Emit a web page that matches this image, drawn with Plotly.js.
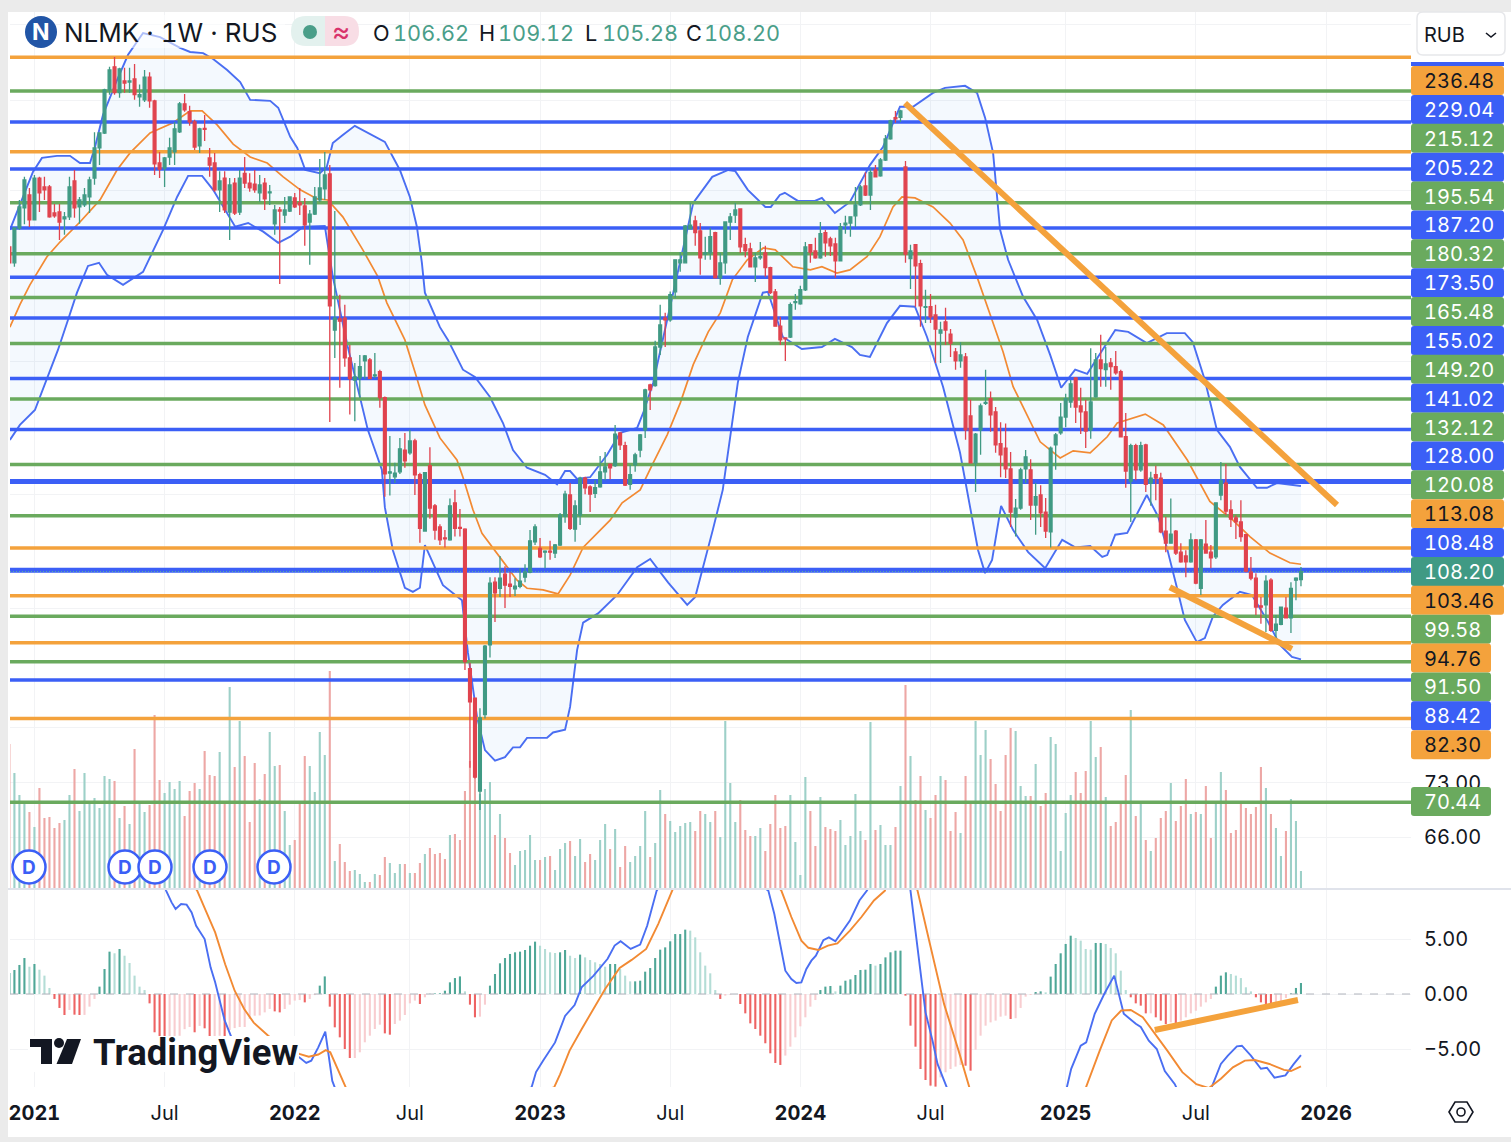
<!DOCTYPE html>
<html><head><meta charset="utf-8">
<script src="https://cdn.plot.ly/plotly-3.0.1.min.js"></script>
<style>html,body{margin:0;padding:0;background:#fff;overflow:hidden}#c{width:1511px;height:1142px}svg text{font-feature-settings:"tnum" 1,"cv01" 0;font-variant-numeric:tabular-nums}</style>
</head><body><div id="c"></div>
<script>
const openP=[198.1,192.3,205.2,213,218.2,208.3,225.2,221.5,221.5,211,211.4,208.7,209.5,224,213.4,214.2,217.4,225.2,238.2,244.9,265.4,277,264,269.8,269.3,270.8,262,260.5,271.8,260,231.6,229.4,234.2,236.4,245.4,258.6,254.8,250,239.1,247,233.8,231.6,220.3,225.2,211.4,223.1,211.4,227.2,223.1,222.7,219.1,223.1,219.1,206.8,212.2,210.2,211.8,217,215,213.8,207.5,210.6,216.2,220.7,226.9,169.7,173.2,173.5,161.1,154.6,155.2,160.2,160.5,155.8,157,149.6,130,129.1,130.3,135.7,135,138,129.6,116.7,131.8,122.3,117.6,115.2,114.8,123,117.5,117.1,90.3,85.5,71.9,82.9,94.4,106.1,104.9,107.7,105.7,104.8,105.3,107.1,108.1,114.4,113,112.2,112.4,112,113.7,120,124.8,117.1,120.2,128.8,126.7,125.2,126.7,130.3,132.2,131.8,140.1,136.8,127.3,132,135.7,140.9,153.2,153,164.4,173.5,172.9,182.2,192.3,192.3,204.9,207.9,204.1,195.5,195.9,203.4,187,192.3,207.5,210.2,212.6,198.9,197.4,190.9,194.1,195.9,190.6,182.2,170.9,167.2,167.5,178.6,178.2,182.9,198.9,196.6,194.1,203.4,201.1,199.2,193,206.4,207.1,209.9,214.2,221.9,218.2,228.6,226.1,232.9,242.2,252,252.2,229.9,193.8,198.9,192,177,177.2,174.5,168.7,172.3,168.4,162.9,160.2,161.4,144.6,132.5,140.9,148,149.3,145.7,137.3,136.2,131,119.8,121.8,131,130.8,122.5,124.8,120.9,116.5,137,140.1,144.3,148.4,155.2,147.3,145.7,140.9,149.8,160.5,157.6,159.6,158.5,157,139.1,128.1,136.8,130.8,137,127.6,129.6,128.8,116.7,114.1,116.7,112.2,111.4,110.2,114.8,104.9,113.9,112.2,111.2,124.8,127.6,121.4,119.6,118.7,115.9,108.1,106.9,101.5,101.7,106.5,97,98.1,101.1,99.3,106.5,106.62];
const highP=[198.9,205.2,216.2,225.7,221.1,226.5,225.7,225.7,222.3,214.6,214.6,211.4,225.7,228.6,217.4,221.1,225.7,245.3,245,265.9,277,282.2,276.5,276.5,276.5,278.5,268,275.4,274.3,260.5,236.4,234.2,242.7,250,259.5,263.4,257.6,251,247.3,253.3,238.2,235.9,228.1,228.1,225.2,225.2,228.6,234.2,227.2,228.6,226.5,225.2,222.3,214.2,213.4,217.4,217.4,219,221.1,217,212.2,221.5,233.3,236.4,230.7,211.8,181.2,177.9,165,159.6,162,162,161.1,162.6,157.6,149.9,139.3,132.5,138.8,140.1,140.9,138.6,130.1,130.1,136.4,122.7,118.2,116.9,124,126,121.6,117.3,91.3,85.5,83.9,94.4,107.1,107.1,111.4,109.3,108.1,106.9,108.9,109.7,116.9,118.2,115.2,112.6,114.6,113.9,120.7,125.8,127.6,123.6,129.1,129.1,127.1,128.3,134.2,135.2,132.2,142.2,140.1,137.8,132,135,139.8,152.1,153.5,166.3,177.9,175.2,182.3,193.4,196.2,206.3,215,209.9,207.1,201.9,205.2,203.8,195.9,207.5,211,215,212.6,201.5,199.6,195.9,199.9,198.5,190.9,183.2,173.9,167.2,178.6,181.5,184.3,199.9,199.2,201.5,207.5,204.5,201.9,201.5,207.1,209.9,209.5,221.5,222.3,227.6,229.6,230.7,233.8,244,251,255.2,255.7,232.5,198.9,198.9,193.4,182.9,181.5,177.9,172.3,176.9,170,164.1,165.9,162.6,149,140.1,148,157.6,151.3,147,142.9,142.6,135.2,123.9,131.3,135.7,133.4,127.6,127.1,124.1,136.6,140.1,148.1,150.7,154.6,155.5,152.4,149,164,162.6,168.2,164.4,161.1,163.2,157.6,145.4,137.3,137.3,137.8,137.3,130.3,131.8,130.1,119.8,124,116.9,114.1,112.6,116.2,115,115,119.1,113.7,123,132.7,132.2,123.6,120.2,123.6,115.9,111.2,107.9,103.2,107.5,106.9,99.8,101.3,103.2,106.1,107.1,109.12];
const lowP=[191.6,190.9,204.5,206.6,205.6,208.3,211.4,216.2,209.1,209.1,200.7,202.6,208.3,209.1,206.8,213.4,211,222.4,230.7,244.4,263,263,261.5,264,264,260.5,257.2,259.5,256.7,226.5,225.2,221.5,230.7,230.7,244.9,254.8,248.2,237.3,236,241.3,225.7,219.5,211.4,211,200.7,210.2,210.2,221.1,219.5,219.1,215.4,212.2,214.2,202.6,184.9,207.1,211.4,213,210.2,198.5,191.6,210.2,215.4,216.2,143,161.1,152.4,158.5,145,143.2,149.6,155,154.9,155.2,146.8,124.4,124.7,127.6,129.8,131.3,134.5,124.8,114.2,116.7,119.4,114.8,113.7,113.2,114.6,115.5,115.5,90.1,75.1,73.6,69.4,82.3,92.2,98.5,103.2,101.1,103.2,103.4,104.9,106.1,107.9,113.7,111,108.9,110.6,111,113.5,118.5,116.9,114.4,118,125,120.9,124.1,126.5,128.3,128.5,131.5,135.7,126.9,126,130.3,133.9,138.8,146.2,152.7,162,164.4,172.3,180.2,189.1,192.3,204.9,198.5,188.1,193.4,193.4,187,184.6,188.4,200.7,207.1,195.9,194.3,190.6,185.6,193.4,187.4,181.5,170.9,165,160.2,167.2,176.2,177.9,182.5,192.3,193.8,193.8,194.5,194.8,187,193,203,201.9,205.6,213.8,217.8,212.2,225.7,225.7,232.5,241.8,249.6,250,192.3,183.2,177.2,170.7,171.9,171.9,159.6,159.6,165,161.4,157.6,158.2,138.3,132.5,125.5,134.5,147.6,140.4,135,129,128.8,117.6,115.5,121.4,127.6,119.1,115.9,117.6,115.2,113.2,130.8,139.6,141.6,146.8,142.7,139.8,136.2,138.6,149.6,152.7,152.7,151.8,156.1,139.1,126.5,118.7,128.3,130.3,125.5,122.3,123.6,116.2,112.2,114.1,111.6,110,107.1,110,105.7,103.6,112,108.9,110.8,123.6,120.2,117.6,115,114.4,108.1,106.5,99.8,98.2,96.7,96.7,94.8,97.9,99.3,96.5,102.6,105.28];
const closeP=[192.3,205.2,213.4,224.4,208.3,225.2,219.1,220.3,209.5,209.9,207.5,209.5,221.5,213,216.2,218.2,224.4,238.2,245,265.4,275.4,264,275.9,268.8,269.8,263,263,271.8,260,231.2,229,233.8,238.2,246.8,258.6,255.7,250,238.6,246.8,246.6,230.7,220.3,224,212.2,222.3,211,225.2,223.1,221.1,220.3,222.3,216.6,219.5,212.2,211.8,212.2,217.4,213.4,214.2,206.4,210.6,217.4,221.1,226.5,177.5,173.5,172.5,161.1,155,155.5,158.5,161.7,155,156.1,149.6,129.8,130.3,130,136,133,138,129.6,117.3,130.1,121.8,116.9,114.8,115,122.3,117.3,117.3,91.5,84.9,73.8,82.4,94.2,105.9,104,106.9,105.5,105.3,105.3,106.3,108.1,114.6,117.6,111.2,112.4,112.2,113.7,120.2,125,117.3,122.3,128.8,126.5,125,126.5,130.3,131.5,131.3,139.8,137,127.1,129.6,134.5,139.6,151.8,151.8,164.4,171.3,172.9,181.2,193.4,193.4,206,206.3,203.4,194.1,195.9,201.9,187,192.3,207.5,209.5,212.2,198.1,196.6,190.9,194.1,194.5,190.6,181.9,170.9,166.6,166.9,177.9,178.9,182.9,198.1,196.2,194.1,203,199.6,198.5,193,205.7,207.1,209.5,214.2,221.5,218.2,227.6,225.7,232.9,242.2,250.5,251.5,255.2,195.5,196.6,191.2,177.5,177.2,173.9,170,169.7,169.7,165.6,160.2,162,140.9,132.5,139.8,147.3,148.3,144.9,137,134.5,131,120.9,121.8,130.8,134,122.5,124.4,120.7,116.7,136.2,139.6,144.3,149.3,153.5,147,145.7,140.6,148.4,160.5,157.9,159.3,158.5,156.7,139.1,130.5,136.8,130.8,136.8,127.3,128.8,128.8,116.5,114.1,116,112,110.2,110.2,114.8,105.9,114.8,112,111,123,128.1,121.1,119.3,118.7,115.5,108.3,106.9,101.3,101.3,106.3,97,98.1,101.3,99.3,104.9,106.9,108.2];
const volumes=[14.4,11.5,9.3,8.4,7.6,6.1,10,7,7.1,6,6.5,6.8,9.3,11.9,7.7,11.5,8.4,9,8,11.2,10.9,10.7,7,8.2,6.4,13.9,8.4,7.6,8.3,17.3,10.8,9.5,10.6,9.9,10.7,7.2,9.7,10.5,9.9,13.7,11.3,11.2,13.6,8.6,20.1,12.1,16.7,13.2,6.6,12.5,8.9,11.4,15.6,12.2,12.3,7.7,4.3,4.8,8.4,13.2,12.2,9.6,15.6,13.3,21.7,2.7,4.4,2.6,1.7,1.8,1.4,0.6,0.6,1.4,1.3,3.1,2.5,1.5,2.4,2.4,1.5,1.5,2.5,3.4,4,3.4,3.5,2.9,5.3,5.4,4.8,9.7,12.7,12.2,9.4,9.9,10.6,5.3,7.4,5,3.5,2.3,3.7,3.8,5.3,2.8,2.8,3.1,3.2,1.8,3.9,4.5,4.7,3.2,4.9,2.6,3.4,2.8,4.8,6.4,3.9,5.9,2.1,4.2,2.6,3.2,4.2,7.7,3.1,4.5,9.8,7.4,6.7,5.6,6.2,6.5,6.6,5.7,7.7,7.4,6.6,7.7,5.1,16.7,10.5,6.6,8.8,5.8,5.2,5.2,6,3.7,6.4,9.3,6,6.2,9.3,4.6,1.3,11.1,7.7,4.2,9.1,6.1,5.9,5.7,6.8,4.3,5.2,9.4,5.7,4.8,16.6,5.8,6.3,4.3,4.3,6.1,10.2,20.3,13.2,8.8,11.2,7.8,7,9.3,11.2,10.8,5.7,7.6,5.5,11.2,8.4,16.7,13.3,15.8,12.9,10.4,7.7,13.3,16,15.7,10.2,9.2,9.2,12.4,8.2,9.5,15.1,14.4,3.7,7.5,9.3,11.6,9.5,11.7,16.7,13.1,14.1,9.1,6.2,6.6,8.4,11.3,17.8,7.2,8.4,4.8,3.7,5,7,7.7,10.5,6.7,8.2,10.9,7.4,7.6,7.4,10.2,5,8.6,11.6,9.8,5.5,5.8,8.4,8,7.4,8.1,12.1,10,7.4,6,3.2,5.7,8.9,6.7,1.7];
const macdHist=[1.9,2.18,2.64,3.27,2.48,2.73,2.21,1.67,.55,-.45,-1.27,-1.91,-1.45,-1.88,-1.91,-1.9,-1.15,-.45,.67,2.27,3.85,3.7,4.09,3.48,2.82,1.67,.67,.36,-.85,-3.48,-3.88,-3.94,-3.9,-3.85,-3.8,-3.2,-3,-3.48,-2.9,-3.12,-3.88,-3.88,-3.8,-4.24,-3.27,-3.1,-3,-3,-2.27,-1.97,-1.95,-1.67,-1.36,-1.58,-1.67,-1.36,-.97,-.6,-.55,-.76,-.45,-.1,.76,1.6,-1.15,-3.03,-3.94,-5,-5.82,-5.82,-5.3,-4.39,-3.79,-3.18,-2.79,-3.58,-3.7,-2.73,-2.42,-1.91,-.85,-.6,-.91,-.3,.02,.05,.06,.3,1.06,1.45,1.6,.24,-.97,-2.12,-2.06,-.97,.76,1.82,2.79,3.27,3.64,3.79,3.85,4,4.39,4.76,4.39,4.09,3.79,3.73,3.79,4,3.48,3.27,3.58,3.33,3.09,2.88,2.73,2.48,2.73,2.73,2.27,1.67,1.15,1.15,1.21,2.03,2.36,3.27,4.03,4.24,4.79,5.45,5.45,5.85,5.76,5.15,3.79,2.58,1.88,.36,-.45,-.15,-.06,0,-.91,-1.76,-2.67,-3.18,-3.79,-4.48,-5.39,-6.27,-6.45,-5.6,-4.79,-3.94,-2.94,-2.12,-1.15,-.55,.36,.67,.73,.24,.76,1.21,1.33,1.73,2.18,2.21,2.73,2.58,2.73,3.33,3.79,3.94,3.94,-.15,-2.88,-4.79,-6.82,-7.82,-8.33,-8.42,-7.58,-7.12,-6.82,-6.6,-6.45,-6.52,-6.97,-5.06,-3.79,-2.88,-2.58,-2.42,-2.06,-1.97,-2.27,-2.2,-1.27,-.24,-.09,.18,.24,.15,1.58,2.73,3.7,4.55,5.3,5.09,4.85,4.09,4.03,4.64,4.64,4.55,4.18,3.7,2.12,.36,-.3,-.85,-1.06,-1.76,-1.76,-2.12,-2.42,-2.73,-2.58,-2.79,-2.42,-2.12,-1.76,-1.52,-1.15,-.76,-.45,.67,1.67,1.97,1.82,1.67,1.45,.61,.24,-.3,-.76,-.91,-.97,-.97,-.67,-.36,.06,.55,1];

const upperX=[.1,4.7,6.5,9.5,12.1,14.1,16.1,17.1,18.7,21.5,23.7,26.7,30.1,34.1,36.1,38.7,40.7,43.5,46.1,48.1,52.1,53.7,56.1,57.5,59.1,62,63.4,64.6,66.6,69,75,78,80,81.4,82.4,83,86,87.6,90.6,93,96,98.6,100.6,103.4,107,109.4,111,112,113.4,116,119.4,122,125.4,126.6,128.6,134.6,136.6,140.4,143.6,145,147.5,151,152.1,153.9,154.9,157.5,160.9,162.3,164.9,167.9,171.9,174.5,177.9,180.5,184.5,186.9,190.9,193.3,194.9,196.5,197.9,199.5,202.5,205.3,207.9,210.1,212.9,215.3,217.9,220.9,223.5,227.2,231.2,234.8,236.4,238.8,241.2,243.8,245.8,249.2,251.2,253.2,258];
const upperP=[204.5,227.8,233.8,234.7,234.7,231.6,231.6,238.6,253.3,270.3,283.3,295,292.8,287,284.8,284.2,281.1,275.4,269.3,260.5,260,256.7,243.2,238.2,228.6,227.2,229.9,240.4,244,248.2,240.9,228.6,217.4,205.7,192.3,181.9,170.6,166.6,157.6,155.5,149.8,142.7,135.7,131.3,129.6,127.3,130.5,130.5,128.6,129,134.5,140.1,141.4,145.4,153.8,197,215,225.7,228.6,228.1,220.3,213.4,213.4,218.2,219.1,215.8,215.8,217,211,215.4,230.7,238.6,257.2,257.2,263.9,266.4,267.4,263.9,252,236,204.5,193.4,180.5,172.9,162,152.4,157.6,156.4,162.6,169.7,169.1,165.6,168.7,168.7,165.9,154.6,140.9,136.5,131.5,126.5,126.5,127.6,126.9];
const lowerX=[.1,2.1,5.1,8.1,9.7,11.7,13.5,15.7,17.9,19.5,22.7,26.7,30.7,33.5,35.7,38.5,40.7,45.1,47.7,50.7,53.7,56.1,58.7,63,64.6,67.6,71.6,74.4,75,76.6,79,80.6,82,83,86.6,90.4,91.6,93.4,95,97,99,100.6,102,103.4,107.4,108.6,111,112,113.4,114.6,117.6,121.4,125.4,128,131.6,135.4,137,140.5,142.5,145.5,147.5,150.5,151.5,154.5,158.3,162.3,164.9,168.3,169.9,171.9,175.3,177.9,180.9,183.3,186.5,189.9,191.3,193.5,194.9,196.3,198.1,200.5,203.5,206.9,210.3,212.9,215.9,218.3,219.3,220.9,223.3,227.2,229.5,231.2,233.2,234.8,237.2,238.8,240.4,242.4,245.8,248.2,251.2,253.8,256.2,258];
const lowerP=[138.3,142.2,146.2,157.6,163.5,172.9,181.9,191.2,192.3,188.1,184.6,189.1,204.5,217.4,226.1,226.1,220.3,205.7,207.1,203.8,199.6,201.9,205.7,206,187.4,164.4,140.9,130.8,122,112.6,105,104.2,105,113.7,105.5,102.6,93,82.6,77.6,76.1,76.6,78,78,79.4,79.4,80.2,80.6,84.1,93.5,98.4,100.1,103.6,109.1,110.8,106,101.7,103.2,116.9,126,153.8,167.5,181.9,182.2,167.5,163.8,164.4,166.9,164.4,162,161.4,171.9,177.5,177.2,167.5,152.7,135,126,112.6,107.9,110.6,122.3,116.9,112.2,108.9,114.8,113.2,113.5,111.2,111.6,115.9,116.3,124.8,119.8,113.2,105.1,98.9,94.9,95.6,99.5,101.7,104.2,103.6,98.9,94.4,92.3,91.9];
const basisX=[.1,2.1,4.1,7.5,10.1,14.1,18.1,21.5,24.1,28.1,32.7,36.1,38.5,41.5,44.7,48.1,51.5,54.7,58.1,61.5,63.6,66.6,70.6,73.6,75.4,79,81,83,86,89.4,90.6,92.6,94.4,98,101.4,103.4,106.6,109.6,112,114.6,120,122.4,126,128.6,131.4,134,136.6,139.6,142,144.4,147.4,150.6,153,156.5,160,162.3,165.3,167.9,171.3,173.9,176.5,178.3,180.9,184.5,187.9,190.5,193.5,196.5,198.5,200.5,205.9,209.9,212.5,215.9,219.3,221.3,226.9,230.5,235.3,239.8,244.4,247.8,251.8,255.8,258];
const basisP=[170.6,177.9,184.6,194.5,199.9,207.5,216.2,228.6,236,244.9,249.6,255.2,255.2,248.6,239.9,234.2,231.6,225.7,220.3,216.6,216.2,209.5,197,187.4,178.5,166.6,157,147.6,138.8,133.2,129,121.4,116.2,111.2,106.5,104.9,104.6,103.8,107.5,113.2,119.1,123,126,132.5,139.6,148.1,159.1,169.1,175.2,186.3,193.4,197.7,197,190.9,189.8,190.9,188.7,189.8,194.5,201.9,213.4,217.4,217,213.4,207.1,200.7,186.3,171.9,162.9,152.7,137.8,133.7,135.5,135,139.1,142.7,145.1,142.2,133.2,123.3,119.1,115.5,112,110,109.7];

const macdX=[25,30,31.3,32.4,33.2,34.3,35.4,36.4,37.3,39,40.2,41.1,43,44.5,57.9,59.3,60.3,61.7,63.1,64.5,65,70,104.3,105.2,106.6,109,111,112.9,114.3,116.7,119.5,120.9,122.1,124.1,126,127.4,129.3,135,140,151.6,152.8,155,156.2,157.2,158.2,159.2,160.2,161.1,162.6,163.7,165,167.9,169.8,171.3,176,178,180,182,183,184.4,185.4,187.3,192,211.2,212.1,214,215.1,216.8,218.7,220.7,222.6,225,226,227.6,229.2,230.8,232.8,233.7,238,240.1,242,243.4,245.2,246.2,248,250,251.2,252.7,254.9,256.5,258];
const macdLine=[13,11,9.4,8.33,7.73,8.18,8.12,7.42,6.2,5,2.4,1.06,-2.4,-4.1,-5.76,-6.27,-6.06,-4.85,-3.42,-7.9,-8.5,-12,-8.5,-7.1,-6.06,-4.4,-2,-1,.6,1.67,3.2,4.4,4.8,4.1,4.5,6.2,9.4,13,13,9.4,7.27,2.12,1.36,1,1.06,2.27,3.03,3.48,4.9,5.15,4.8,6.67,8.5,9.4,14,18,9.4,2.12,-1.67,-4.24,-6.36,-8.55,-14,-8.55,-6.8,-4.7,-4.4,-1.8,0,1.67,-1.8,-2.7,-3,-4.24,-5,-7,-8.2,-9.1,-11,-8.55,-6.36,-5.6,-4.76,-4.7,-5.6,-6.8,-6.7,-7.6,-7.4,-6.4,-5.55];
const signalX=[30,34,37.5,39.2,41.1,43.1,45,46.9,48.8,51.7,53.9,57.9,59.8,61.7,63.2,64.1,65.5,67.2,72,108.8,110,111.9,114.3,116.7,119,121.9,124.3,127.2,129.6,132.4,137,145,154.2,156.2,158.2,159.6,161.6,163.5,165.4,167.9,170.2,172.7,174.9,178,181.4,183.8,186.7,189.6,191.8,196,215,217.8,220.2,222.1,224,226.4,228.9,231.3,234.3,237.1,239.6,242,244.4,246.8,248.8,251.7,254.6,256,258];
const signalLine=[14,11.5,9.4,7.6,5.6,2.7,.3,-1.36,-2.6,-3.8,-4.5,-5.45,-5.7,-5.5,-5.1,-5.3,-6.7,-8.5,-12,-8.5,-7.3,-5.15,-3.2,-1.36,.45,2.36,3.1,4.1,6.36,9.4,14,14,9.4,7,4.85,4.2,4,4.4,4.6,5.76,7,8.5,9.4,14,9.4,4.7,-.9,-5.15,-8.55,-12,-8.55,-5.15,-2.4,-1.5,-1.45,-2.1,-3.6,-5.15,-7.1,-8.2,-8.55,-7.7,-6.67,-6.06,-6,-6.36,-6.9,-7,-6.58];

const levelsOrange=[282,236.48,113.08,103.46,94.76,82.3];
const levelsBlue=[250,229.04,205.22,187.2,173.5,155.02,141.02,88.42];
const levelsBlueHeavy=[128,108.48];
const levelsGreen=[264.8,215.12,195.54,180.32,165.48,149.2,132.12,120.08,99.58,91.5,70.44];
const lastPrice=108.2;
const priceTagText=['236.48','229.04','215.12','205.22','195.54','187.20','180.32','173.50','165.48','155.02','149.20','141.02','132.12','128.00','120.08','113.08','108.48','108.20','103.46','99.58','94.76','91.50','88.42','82.30'];
const priceTagKind=['o','b','g','b','g','b','g','b','g','b','g','b','g','b','g','o','b','t','o','g','o','g','b','o'];
const lowestTagText='70.44';
const timeTickIndex=[5,31,57,80,106,132,158,184,211,237,263];
const timeTickText=['<b>2021</b>','Jul','<b>2022</b>','Jul','<b>2023</b>','Jul','<b>2024</b>','Jul','<b>2025</b>','Jul','<b>2026</b>'];
const priceGridVals=[66,73,81,101,125,160,220,260,300];
const priceGridText=['66.00','73.00','','','','','','',''];
const macdTicks=[5,0,-5];
const macdTickText=['5.00','0.00','−5.00'];
const trendA=[[178.9,265.2],[258.9,122.5]];
const trendB=[[231.8,256.2],[105.1,93.7]];
const trendMacd=[[228.8,257.4],[-3.27,-.55]];
const dividendIndex=['29','125','155','210','274'];

const FONT='Inter, "Noto Sans", sans-serif';
const TEAL='#409a84',RED='#e0434e',BLUE='#3b5ff6',ORG='#f4a23c',GRN='#6aaa5e';
const W=1511,H=1142,L=10,R=1411,T=12,B=1087,MB=888,MT=890;
const X=p=>(p-L)/(R-L), Y=p=>(B-p)/(B-T);
const xs=macdHist.map((_,i)=>i);
const xMin=.12,xMax=279.98;
const t=[];
t.push({type:'bar',x:xs,y:volumes,yaxis:'y',xaxis:'x',width:.42,marker:{color:xs.map(i=>closeP[i]>=openP[i]?'#9dd0c8':'#eda7a5'),line:{width:0}},hoverinfo:'skip'});
t.push({type:'scatter',mode:'none',x:upperX.concat(lowerX.slice().reverse()),y:upperP.concat(lowerP.slice().reverse()),fill:'toself',fillcolor:'rgba(90,165,240,.065)',yaxis:'y2',xaxis:'x',hoverinfo:'skip'});
t.push({type:'scatter',mode:'lines',x:basisX,y:basisP,line:{color:'#f28a33',width:1.7},yaxis:'y2',xaxis:'x',hoverinfo:'skip'});
t.push({type:'scatter',mode:'lines',x:upperX,y:upperP,line:{color:'#4a6ef2',width:1.9},yaxis:'y2',xaxis:'x',hoverinfo:'skip'});
t.push({type:'scatter',mode:'lines',x:lowerX,y:lowerP,line:{color:'#4a6ef2',width:1.9},yaxis:'y2',xaxis:'x',hoverinfo:'skip'});
const lvl=(arr,c,w)=>arr.forEach(v=>t.push({type:'scatter',mode:'lines',x:[xMin,xMax],y:[v,v],line:{color:c,width:w},yaxis:'y2',xaxis:'x',hoverinfo:'skip'}));
lvl(levelsOrange,ORG,3.5);lvl(levelsBlue,BLUE,3.5);lvl(levelsBlueHeavy,BLUE,5);lvl(levelsGreen,GRN,3.5);
t.push({type:'scatter',mode:'lines',x:[xMin,xMax],y:[lastPrice,lastPrice],line:{color:'#5fb49a',width:1,dash:'1px 2px'},yaxis:'y2',xaxis:'x',hoverinfo:'skip'});
t.push({type:'candlestick',x:xs,open:openP,high:highP,low:lowP,close:closeP,yaxis:'y3',xaxis:'x',
 increasing:{line:{color:TEAL,width:1.3},fillcolor:TEAL},decreasing:{line:{color:RED,width:1.3},fillcolor:RED},hoverinfo:'skip'});
[trendA,trendB].forEach(a=>t.push({type:'scatter',mode:'lines',x:a[0],y:a[1],line:{color:ORG,width:6},yaxis:'y3',xaxis:'x',hoverinfo:'skip'}));
t.push({type:'scatter',mode:'lines',x:[xMin,xMax],y:[0,0],line:{color:'#b2b5be',width:1.2,dash:'8px 8px'},yaxis:'y4',xaxis:'x',hoverinfo:'skip'});
t.push({type:'bar',x:xs,y:macdHist,yaxis:'y4',xaxis:'x',width:.42,marker:{line:{width:0},color:macdHist.map((v,i)=>{const p=i?macdHist[i-1]:v;return v>=0?(v>=p?'#4fa797':'#b4ddd6'):(v<p?'#ee6363':'#f8cdd0');})},hoverinfo:'skip'});
t.push({type:'scatter',mode:'lines',x:macdX,y:macdLine,line:{color:'#4a6ef2',width:1.9},yaxis:'y4',xaxis:'x',hoverinfo:'skip'});
t.push({type:'scatter',mode:'lines',x:signalX,y:signalLine,line:{color:'#f28a33',width:1.9},yaxis:'y4',xaxis:'x',hoverinfo:'skip'});
t.push({type:'scatter',mode:'lines',x:trendMacd[0],y:trendMacd[1],line:{color:ORG,width:6},yaxis:'y4',xaxis:'x',hoverinfo:'skip'});

const sh=[],an=[];
const rr=(x0,y0,x1,y1,r,fill,line,lw)=>{
 const P=(a,b)=>X(a)+','+Y(b);
 sh.push({type:'path',xref:'paper',yref:'paper',layer:'above',
 path:'M'+P(x0+r,y0)+' L'+P(x1-r,y0)+' Q'+P(x1,y0)+' '+P(x1,y0+r)+' L'+P(x1,y1-r)+' Q'+P(x1,y1)+' '+P(x1-r,y1)+' L'+P(x0+r,y1)+' Q'+P(x0,y1)+' '+P(x0,y1-r)+' L'+P(x0,y0+r)+' Q'+P(x0,y0)+' '+P(x0+r,y0)+' Z',
 fillcolor:fill,line:{color:line||'rgba(0,0,0,0)',width:lw||0}});};
const rect=(x0,y0,x1,y1,fill,op)=>sh.push({type:'rect',xref:'paper',yref:'paper',layer:'above',x0:X(x0),x1:X(x1),y0:Y(y0),y1:Y(y1),fillcolor:fill,opacity:op==null?1:op,line:{width:0}});
const circ=(cx,cy,r,fill,line,lw)=>sh.push({type:'circle',xref:'paper',yref:'paper',layer:'above',x0:X(cx-r),x1:X(cx+r),y0:Y(cy-r),y1:Y(cy+r),fillcolor:fill,line:{color:line||'rgba(0,0,0,0)',width:lw||0}});
const poly=(pts,fill,line,lw)=>sh.push({type:'path',xref:'paper',yref:'paper',layer:'above',path:'M'+pts.map(p=>X(p[0])+','+Y(p[1])).join(' L')+' Z',fillcolor:fill,line:{color:line||'rgba(0,0,0,0)',width:lw||0}});
const txt=(s,x,y,sz,col,anchor,extra)=>an.push(Object.assign({text:s,xref:'paper',yref:'paper',x:X(x),y:Y(y),xanchor:anchor||'left',yanchor:'middle',showarrow:false,borderpad:0,font:{family:FONT,size:sz,color:col}},extra||{}));

rect(0,0,1511,12,'#ebebeb');rect(0,0,8,1142,'#ebebeb');rect(0,1137,1511,1142,'#ebebeb');
rect(8,888,1511,890,'#e0e3eb');
rect(60,15,285,48,'#ffffff',.55);
rect(R,62,1504,66,BLUE);
const kindBg={o:ORG,b:BLUE,g:GRN,t:TEAL};
priceTagText.forEach((s,k)=>{
 const yc=80.5+k*28.88,x1=s.length>5?1504:1491;
 rr(R,yc-14.5,x1,yc+14.5,3,kindBg[priceTagKind[k]]);
 txt(s,x1-9,yc+.5,20,priceTagKind[k]=='o'?'#131722':'#fff','right');
});
rr(R,787,1491,816,3,GRN);txt(lowestTagText,1482,802,20,'#fff','right');
rr(1417,12,1505,55,6,'#fff','#e6e7ea',1.5);
txt('RUB',1423,35,20,'#131722');
sh.push({type:'path',xref:'paper',yref:'paper',layer:'above',path:'M'+X(1486)+','+Y(33)+' L'+X(1491)+','+Y(37)+' L'+X(1496)+','+Y(33),line:{color:'#131722',width:1.6}});
circ(41,32,16,'#2155a6');
txt('<b>N</b>',41,32,23,'#fff','center');
txt('NLMK · 1W · RUS',63,32,26,'#131722');
sh.push({type:'path',xref:'paper',yref:'paper',layer:'above',path:'M'+X(325)+','+Y(16)+' L'+X(306)+','+Y(16)+' Q'+X(291)+','+Y(16)+' '+X(291)+','+Y(31)+' Q'+X(291)+','+Y(46)+' '+X(306)+','+Y(46)+' L'+X(325)+','+Y(46)+' Z',fillcolor:'#e3f1ee',line:{width:0}});
sh.push({type:'path',xref:'paper',yref:'paper',layer:'above',path:'M'+X(325)+','+Y(16)+' L'+X(344)+','+Y(16)+' Q'+X(359)+','+Y(16)+' '+X(359)+','+Y(31)+' Q'+X(359)+','+Y(46)+' '+X(344)+','+Y(46)+' L'+X(325)+','+Y(46)+' Z',fillcolor:'#f8dde5',line:{width:0}});
circ(310,32,7,'#4a9e89');
txt('≈',341,31,28,'#d9336b','center');
[['O',372],['H',478],['L',584],['C',685]].forEach(a=>txt(a[0],a[1],33,21.7,'#131722'));
[['106.62',392],['109.12',497],['105.28',601],['108.20',703]].forEach(a=>txt(a[0],a[1],33,21.7,'#4a9e89'));
dividendIndex.forEach(d=>{const x=+d;circ(x,867,16.5,'#fff',BLUE,2.5);txt('<b>D</b>',x,867,19,BLUE,'center');});
rect(28,1036,299,1072,'#fff');
poly([[30,1039],[52,1039],[52,1064],[41,1064],[41,1047],[30,1047]],'#131722');
circ(59,1043,5,'#131722');
poly([[67,1039],[81,1039],[72,1064],[56.5,1064]],'#131722');
txt('<b>TradingView</b>',92,1052,36.5,'#131722','left',{font:{family:'Roboto, sans-serif',size:36.5,color:'#131722'}});
poly([[1449,1112],[1455,1102],[1467,1102],[1473,1112],[1467,1122],[1455,1122]],'rgba(0,0,0,0)','#131722',1.6);
circ(1461,1112,4,'rgba(0,0,0,0)','#131722',1.6);

const logR=[Math.log10(60.03),Math.log10(306.8)];
const dom=[(B-MB)/(B-T),1],dom2=[0,(B-MT)/(B-T)];
Plotly.newPlot('c',t,{
 width:W,height:H,margin:{l:L,r:W-R,t:T,b:H-B,pad:0},paper_bgcolor:'#fff',plot_bgcolor:'#fff',showlegend:false,barmode:'overlay',boxgap:.2,
 font:{family:FONT,size:20,color:'#131722'},
 xaxis:{domain:[0,1],anchor:'y4',range:[xMin,xMax],tickmode:'array',tickvals:timeTickIndex,ticktext:timeTickText,showgrid:true,gridcolor:'#f2f3f5',gridwidth:1,zeroline:false,showline:false,ticks:'outside',ticklen:8,tickcolor:'rgba(0,0,0,0)',rangeslider:{visible:false},tickfont:{family:FONT,size:20,color:'#131722'}},
 yaxis:{domain:dom,range:[0,87.6],visible:false,fixedrange:true},
 yaxis2:{domain:dom,overlaying:'y',side:'right',type:'log',range:logR,tickmode:'array',tickvals:priceGridVals,ticktext:priceGridText,showgrid:true,gridcolor:'#f2f3f5',zeroline:false,ticks:'outside',ticklen:8,tickcolor:'rgba(0,0,0,0)',tickfont:{family:FONT,size:20,color:'#131722'},anchor:'x'},
 yaxis3:{domain:dom,overlaying:'y',side:'right',type:'log',range:logR,visible:false,anchor:'x'},
 yaxis4:{domain:dom2,side:'right',range:[-8.4545,9.4545],tickmode:'array',tickvals:macdTicks,ticktext:macdTickText,showgrid:true,gridcolor:'#f2f3f5',zeroline:false,ticks:'outside',ticklen:8,tickcolor:'rgba(0,0,0,0)',tickfont:{family:FONT,size:20,color:'#131722'},anchor:'x'},
 shapes:sh,annotations:an
},{staticPlot:true,displayModeBar:false});
</script></body></html>
